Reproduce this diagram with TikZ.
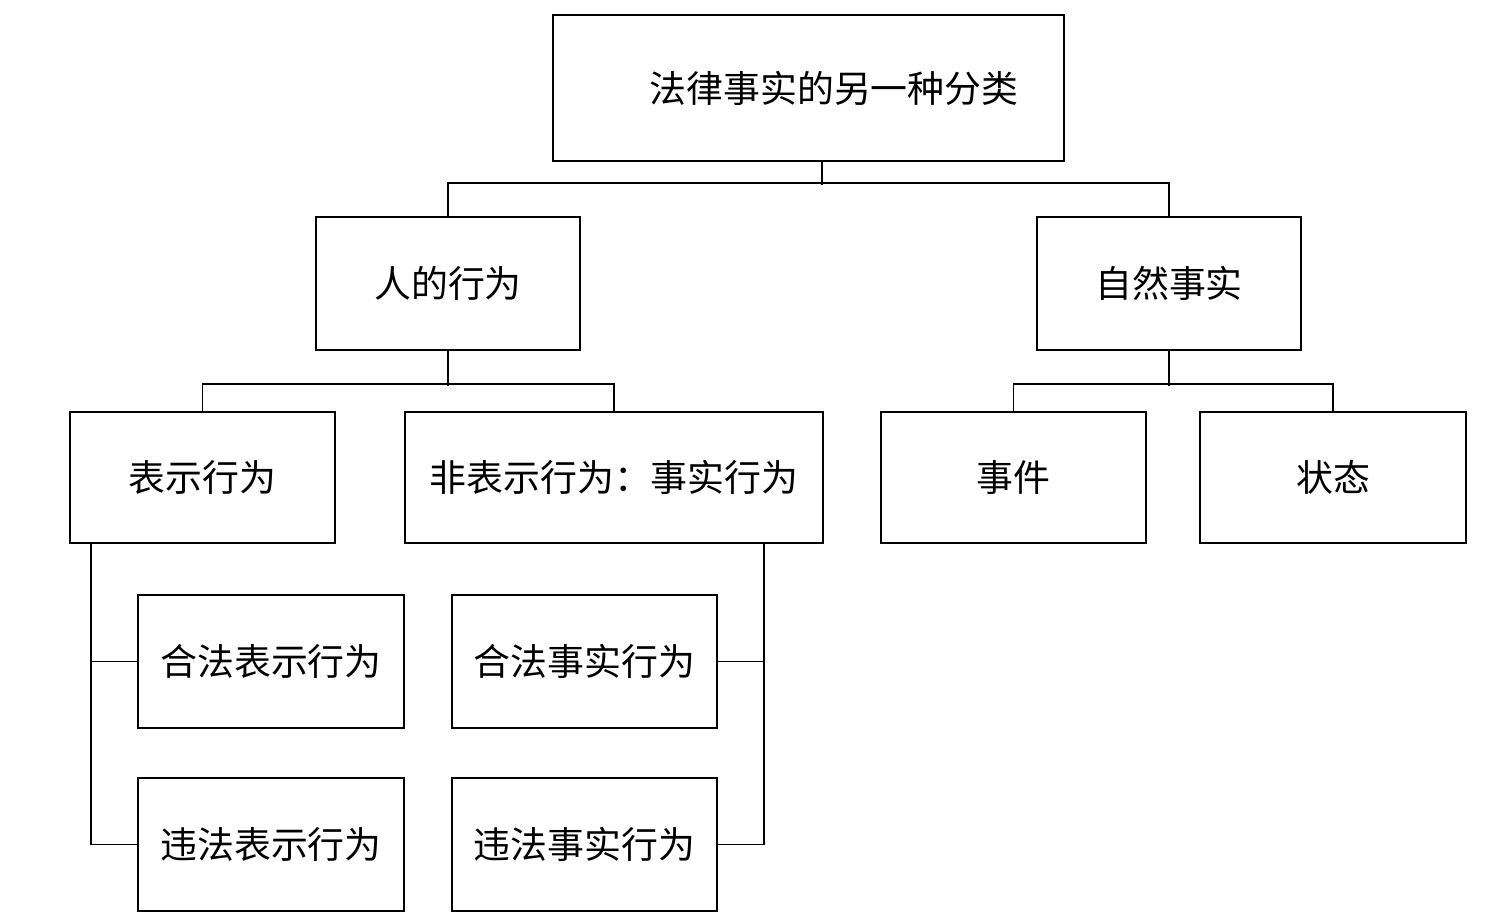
\documentclass[tikz,border=0pt]{standalone}
\usepackage{fontspec}
\newfontfamily\cjk{Noto Sans CJK SC}
\begin{document}
\begin{tikzpicture}[x=0.02cm,y=-0.02cm,
  box/.style={draw=black, line width=1.1pt, inner sep=0pt, font=\cjk\fontsize{21}{26}\selectfont},
  conn/.style={draw=black, line width=1.1pt}]
\useasboundingbox[fill=white] (0,0) rectangle (1504,918);
\node[box, minimum width=10.22cm, minimum height=2.92cm] (top) at (808.5,88) {\hspace*{1.02cm}法律事实的另一种分类};
\node[box, minimum width=5.28cm, minimum height=2.66cm] (rx) at (448,283.5) {人的行为};
\node[box, minimum width=5.28cm, minimum height=2.66cm] (zr) at (1169,283.5) {自然事实};
\node[box, minimum width=5.30cm, minimum height=2.62cm] (bs) at (202.5,477.5) {表示行为};
\node[box, minimum width=8.36cm, minimum height=2.62cm] (fb) at (614,477.5) {非表示行为：事实行为};
\node[box, minimum width=5.30cm, minimum height=2.62cm] (sj) at (1013.5,477.5) {事件};
\node[box, minimum width=5.32cm, minimum height=2.62cm] (zt) at (1333,477.5) {状态};
\node[box, minimum width=5.32cm, minimum height=2.66cm] (hb) at (271,661.5) {合法表示行为};
\node[box, minimum width=5.32cm, minimum height=2.66cm] (wb) at (271,844.5) {违法表示行为};
\node[box, minimum width=5.30cm, minimum height=2.66cm] (hs) at (584.5,661.5) {合法事实行为};
\node[box, minimum width=5.30cm, minimum height=2.66cm] (ws) at (584.5,844.5) {违法事实行为};

\draw[conn] ([xshift=0.27cm]top.south) -- ++(0,23);
\draw[conn] (rx.north) -- ++(0,-33) -| (zr.north);
\draw[conn] (rx.south) -- ++(0,35);
\draw[conn] (bs.north) -- ++(0,-27) -| (fb.north);
\draw[conn] (zr.south) -- ++(0,35);
\draw[conn] (sj.north) -- ++(0,-27) -| (zt.north);
\draw[conn] ([xshift=0.44cm]bs.south west) |- (hb.west);
\draw[conn] ([xshift=0.44cm]bs.south west) |- (wb.west);
\draw[conn] ([xshift=-1.2cm]fb.south east) |- (hs.east);
\draw[conn] ([xshift=-1.2cm]fb.south east) |- (ws.east);
\end{tikzpicture}
\end{document}
